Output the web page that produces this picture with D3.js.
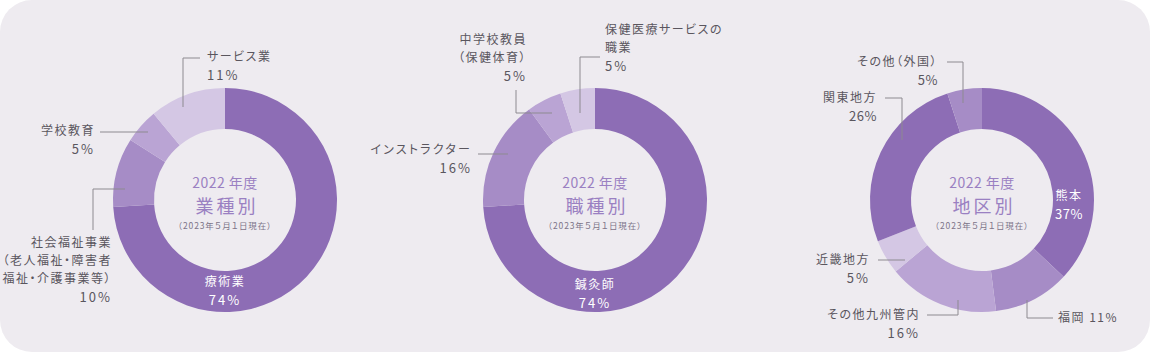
<!DOCTYPE html>
<html><head><meta charset="utf-8">
<script src="https://cdn.jsdelivr.net/npm/d3@7"></script>
<style>
html,body{margin:0;padding:0;background:#fff;}
svg{display:block;}
text{font-family:"Noto Sans CJK JP","Noto Sans",sans-serif;font-feature-settings:"palt";}
</style></head>
<body>
<svg id="c" width="1150" height="352"></svg>
<script>
// ---- data ----
const titles = ["業種別", "職種別", "地区別"];
const yearLabel = "2022 年度";
const asOfLabel = "（2023年５月１日現在）";

const industryCategories = ["療術業", "社会福祉事業", "学校教育", "サービス業"];
const industryValues = [74, 10, 5, 11];

const occupationCategories = ["鍼灸師", "インストラクター", "中学校教員", "保健医療サービスの職業"];
const occupationValues = [74, 16, 5, 5];

const regionCategories = ["熊本", "福岡", "その他九州管内", "近畿地方", "関東地方", "その他（外国）"];
const regionValues = [37, 11, 16, 5, 26, 5];

// ---- style / layout ----
const shades = ["#8d6db5", "#a68cc6", "#baa4d4", "#d4c7e4"];
const chartStyles = [
  {cx: 225, shadeIdx: [0, 1, 2, 3], labels: [
    {lines: ["療術業"], pct: true, dx: 0, dy: 82, anchor: "middle", inside: true},
    {lines: ["社会福祉事業", "（老人福祉・障害者", "福祉・介護事業等）"], pct: true, dx: -113, dy: 43, anchor: "end",
     leader: [[-132, 30], [-132, -11], [-100, -11]]},
    {lines: ["学校教育"], pct: true, dx: -130, dy: -69, anchor: "end", leader: [[-125, -68], [-77, -68]]},
    {lines: ["サービス業"], pct: true, dx: -18, dy: -143, anchor: "start", leader: [[-25, -142], [-42, -142], [-42, -93]]}
  ]},
  {cx: 595, shadeIdx: [0, 1, 2, 3], labels: [
    {lines: ["鍼灸師"], pct: true, dx: 0, dy: 85, anchor: "middle", inside: true},
    {lines: ["インストラクター"], pct: true, dx: -123, dy: -50, anchor: "end", leader: [[-117, -46], [-87, -46]], wide: true},
    {lines: ["中学校教員", "（保健体育）"], pct: true, dx: -68, dy: -160, anchor: "end",
     leader: [[-79, -110], [-79, -87], [-43, -87]]},
    {lines: ["保健医療サービスの", "職業"], pct: true, dx: 10, dy: -170, anchor: "start",
     leader: [[5, -143], [-15, -143], [-15, -87]]}
  ]},
  {cx: 982, shadeIdx: [0, 1, 2, 3, 0, 1], labels: [
    {lines: ["熊本"], pct: true, dx: 87, dy: -4, anchor: "middle", inside: true, tight: true},
    {lines: [], pct: "inline", dx: 76, dy: 118, anchor: "start", leader: [[45, 100], [45, 118], [71, 118]]},
    {lines: ["その他九州管内"], pct: true, dx: -62, dy: 115, anchor: "end", leader: [[-55, 115], [-24, 115], [-24, 100]]},
    {lines: ["近畿地方"], pct: true, dx: -112, dy: 60, anchor: "end", leader: [[-104, 60], [-77, 60]]},
    {lines: ["関東地方"], pct: true, dx: -105, dy: -102, anchor: "end", leader: [[-97, -102], [-80, -102], [-80, -60]], tight: true},
    {lines: ["その他（外国）"], pct: true, dx: -44, dy: -138, anchor: "end", leader: [[-35, -138], [-19, -138], [-19, -97]], tight: true}
  ]}
];
const CY = 200, R_OUT = 112, R_IN = 71, LINE_H = 18;

const datasets = [
  {cats: industryCategories, vals: industryValues},
  {cats: occupationCategories, vals: occupationValues},
  {cats: regionCategories, vals: regionValues}
];

const svg = d3.select("#c");
svg.append("rect").attr("x", 0).attr("y", 0).attr("width", 1150).attr("height", 352)
  .attr("rx", 32).attr("ry", 32).attr("fill", "#eeebf0");

const pie = d3.pie().sort(null).value(d => d.v);
const arc = d3.arc().innerRadius(R_IN).outerRadius(R_OUT);

datasets.forEach((ds, ci) => {
  const st = chartStyles[ci];
  const rows = ds.cats.map((c, i) => ({c, v: ds.vals[i], i}));
  const g = svg.append("g").attr("transform", `translate(${st.cx},${CY})`);
  g.selectAll("path.slice").data(pie(rows)).join("path")
    .attr("class", "slice")
    .attr("d", arc)
    .attr("fill", d => shades[st.shadeIdx[d.data.i]]);

  // center texts
  g.append("text").attr("x", 0).attr("y", -12).attr("text-anchor", "middle")
    .attr("font-size", 14).attr("fill", "#9a80c2").attr("letter-spacing", 0.5).text(yearLabel);
  g.append("text").attr("x", 2).attr("y", 13).attr("text-anchor", "middle")
    .attr("font-size", 18).attr("fill", "#9a80c2").attr("letter-spacing", 3).text(titles[ci]);
  g.append("text").attr("x", 0).attr("y", 29).attr("text-anchor", "middle")
    .attr("font-size", 8.5).attr("fill", "#7d7488").attr("letter-spacing", 0.9).text(asOfLabel);

  // labels
  rows.forEach((r, i) => {
    const L = st.labels[i];
    if (L.leader) {
      g.append("path").attr("d", d3.line()(L.leader)).attr("fill", "none")
        .attr("stroke", "#8d8a90").attr("stroke-width", 1);
    }
    const col = L.inside ? "#ffffff" : "#5a565e";
    const t = g.append("text").attr("text-anchor", L.anchor).attr("fill", col)
      .attr("font-size", 12).attr("letter-spacing", L.wide ? 2.2 : 1.5);
    let lines = L.lines.slice();
    if (L.pct === "inline") {
      lines = [r.c + " " + r.v + "%"];
    }
    lines.forEach((s, k) => {
      t.append("tspan").attr("x", L.dx).attr("y", L.dy + 4 + k * LINE_H).text(s);
    });
    if (L.pct === true) {
      t.append("tspan").attr("x", L.dx).attr("y", L.dy + 5 + lines.length * LINE_H)
        .attr("font-size", 13).attr("letter-spacing", L.tight ? 0.5 : 2).text(r.v + "%");
    }
  });
});
</script>
</body></html>
